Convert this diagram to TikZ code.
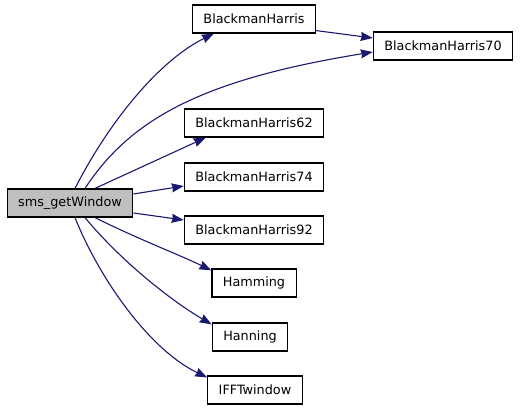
\documentclass[tikz,border=0pt]{standalone}
\usepackage{fontspec}
\setmainfont{DejaVu Sans}
\usetikzlibrary{arrows.meta}
\definecolor{edge}{HTML}{191970}
\definecolor{current}{HTML}{BFBFBF}

\begin{document}
\begin{tikzpicture}[x=1pt,y=-1pt,
  func/.style={draw=black,fill=white,line width=1.2pt,text=black,
    minimum height=28pt,inner xsep=11pt,inner ysep=0pt,
    font=\fontsize{12.8}{14}\selectfont},
  root/.style={func,fill=current},
  call/.style={draw=edge,line width=1.1pt,-{Stealth[length=12pt,width=9pt,inset=1pt]}}
]
\useasboundingbox (0,0) rectangle (520,411);

\node[root] (getwin) at (70,203) {sms\_getWindow};
\node[func] (bh) at (254,19) {BlackmanHarris};
\node[func] (bh70) at (443,46) {BlackmanHarris70};
\node[func] (bh62) at (254,123) {BlackmanHarris62};
\node[func] (bh74) at (254,177) {BlackmanHarris74};
\node[func] (bh92) at (254,230) {BlackmanHarris92};
\node[func] (hamming) at (254,283) {Hamming};
\node[func] (hanning) at (250,337) {Hanning};
\node[func] (ifft) at (255,390) {IFFTwindow};

\draw[call] ([xshift=5pt]getwin.north) .. controls (110,120) and (160,60) .. ([xshift=22pt]bh.south west);
\draw[call] ([xshift=15pt]getwin.north) .. controls (130,120) and (200,80) .. ([yshift=-6pt]bh70.west);
\draw[call] ([xshift=25pt]getwin.north) -- ([xshift=22pt]bh62.south west);
\draw[call] ([yshift=9pt]getwin.east) -- ([yshift=-9pt]bh74.west);
\draw[call] ([yshift=-10pt]getwin.east) -- ([yshift=10pt]bh92.west);
\draw[call] ([xshift=25pt]getwin.south) .. controls (140,240) and (180,255) .. ([yshift=-2pt]hamming.north west);
\draw[call] ([xshift=15pt]getwin.south) .. controls (120,260) and (170,300) .. ([yshift=-2pt]hanning.north west);
\draw[call] ([xshift=5pt]getwin.south) .. controls (100,280) and (150,350) .. ([yshift=-2pt]ifft.north west);
\draw[call] ([yshift=3pt]bh.south east) -- ([yshift=8pt]bh70.west);
\end{tikzpicture}
\end{document}
